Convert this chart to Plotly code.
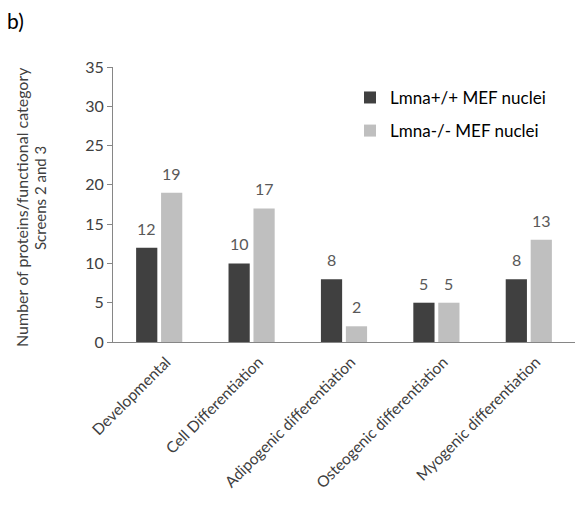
import plotly.graph_objects as go

categories = ["Developmental", "Cell Differentiation", "Adipogenic differentiation",
              "Osteogenic differentiation", "Myogenic differentiation"]
wt_values = [12, 10, 8, 5, 8]
ko_values = [19, 17, 2, 5, 13]
series_names = ["Lmna+/+ MEF nuclei", "Lmna-/- MEF nuclei"]
y_ticks = [0, 5, 10, 15, 20, 25, 30, 35]
y_title_lines = ["Number of proteins/functional category", "Screens 2 and 3"]

FONT = "Lato, 'Open Sans', sans-serif"

fig = go.Figure()
fig.add_trace(go.Bar(x=categories, y=wt_values, name=series_names[0],
                     marker=dict(color="#404040", line=dict(width=0)),
                     legendgroup="a"))
fig.add_trace(go.Bar(x=categories, y=ko_values, name=series_names[1],
                     marker=dict(color="#bfbfbf", line=dict(width=0)),
                     legendgroup="b"))

# value labels above bars (shifted to each bar of the group)
for vals, shift in [(wt_values, -12.5), (ko_values, 12.5)]:
    for c, v in zip(categories, vals):
        fig.add_annotation(x=c, y=v, text=str(v), xshift=shift, yshift=8,
                           yanchor="bottom", showarrow=False,
                           font=dict(size=16, color="#595959", family=FONT))

fig.update_layout(
    width=583, height=508,
    margin=dict(l=113, r=8, t=67, b=166),
    paper_bgcolor="white", plot_bgcolor="white",
    barmode="group", bargap=0.46, bargroupgap=0.15,
    font=dict(family=FONT, color="#404040", size=14),
    showlegend=True,
    legend=dict(x=0.513, y=0.953, xanchor="left", yanchor="top",
                font=dict(size=17, color="#000000", family=FONT),
                tracegroupgap=8, bgcolor="rgba(0,0,0,0)",
                itemwidth=30),
)
fig.add_annotation(text="b)", xref="paper", yref="paper",
                   x=-108/462, y=1 + (67 - 20) / 275,
                   xanchor="left", yanchor="middle", showarrow=False,
                   font=dict(size=21, color="#000000", family=FONT))
title_pos = [(22, 207), (40, 198)]
title_sizes = [16, 15]
for line, (px, py), fs in zip(y_title_lines, title_pos, title_sizes):
    fig.add_annotation(text=line, xref="paper", yref="paper",
                       x=-(113 - px) / 462, y=(342 - py) / 275,
                       xanchor="center", yanchor="middle", textangle=-90,
                       showarrow=False, font=dict(size=fs, color="#404040", family="Lato"))

fig.update_yaxes(range=[0, 35], tickvals=y_ticks, showgrid=False,
                 showline=True, linecolor="#868686", linewidth=1,
                 ticks="outside", ticklen=5, tickcolor="#868686",
                 tickfont=dict(size=16, color="#404040"),
                 zeroline=False, automargin=False)
fig.update_xaxes(showgrid=False, showline=True, linecolor="#868686", linewidth=1,
                 ticks="", tickangle=-45, tickfont=dict(size=15.5, color="#404040"),
                 ticklabelshift=7, ticklabelstandoff=4,
                 automargin=False)

fig.write_html("out.html")
